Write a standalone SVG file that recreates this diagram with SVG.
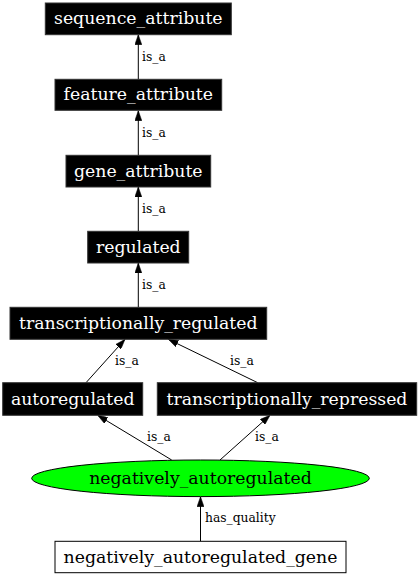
<svg xmlns="http://www.w3.org/2000/svg" width="419" height="576" viewBox="0 0 419 576">
<style>
.box{fill:#000;stroke:#333;stroke-width:1}
.lbl{font-family:"DejaVu Serif",serif;font-size:17.3px;fill:#fff;text-anchor:middle}
.lbld{font-family:"DejaVu Serif",serif;font-size:17.3px;fill:#000;text-anchor:middle}
.el{font-family:"DejaVu Serif",serif;font-size:12.3px;fill:#000}
.edge{stroke:#000;stroke-width:1;fill:none}
</style>
<defs>
<marker id="arr" viewBox="0 0 10 7" refX="10" refY="3.5" markerWidth="10" markerHeight="7" markerUnits="userSpaceOnUse" orient="auto">
<path d="M0,0 L10,3.5 L0,7 Z" fill="#000" stroke="#000" stroke-width="0.5"/>
</marker>
</defs>
<rect width="419" height="576" fill="#fff"/>
<g id="edges">
<line class="edge" x1="138.3" y1="79.3" x2="138.3" y2="34.7" marker-end="url(#arr)"/>
<text class="el" x="142" y="61">is_a</text>
<line class="edge" x1="138.3" y1="155.3" x2="138.3" y2="110.7" marker-end="url(#arr)"/>
<text class="el" x="142" y="137">is_a</text>
<line class="edge" x1="138.3" y1="231.3" x2="138.3" y2="187" marker-end="url(#arr)"/>
<text class="el" x="142" y="213">is_a</text>
<line class="edge" x1="138.3" y1="307.3" x2="138.3" y2="263" marker-end="url(#arr)"/>
<text class="el" x="142" y="289">is_a</text>
<line class="edge" x1="86" y1="382.7" x2="125" y2="339.3" marker-end="url(#arr)"/>
<text class="el" x="115" y="365">is_a</text>
<line class="edge" x1="257.7" y1="382.7" x2="168.3" y2="339.3" marker-end="url(#arr)"/>
<text class="el" x="230" y="365">is_a</text>
<line class="edge" x1="171.7" y1="460" x2="97.7" y2="415.3" marker-end="url(#arr)"/>
<text class="el" x="147" y="441">is_a</text>
<line class="edge" x1="220" y1="460" x2="270" y2="415.3" marker-end="url(#arr)"/>
<text class="el" x="255" y="441">is_a</text>
<line class="edge" x1="200.5" y1="541.3" x2="200.5" y2="496.7" marker-end="url(#arr)"/>
<text class="el" x="205" y="522">has_quality</text>
</g>
<g id="sequence_attribute">
<rect class="box" x="45.3" y="3" width="186" height="31.7"/>
<text class="lbl" x="138.3" y="24">sequence_attribute</text>
</g>
<g id="feature_attribute">
<rect class="box" x="55" y="79.3" width="166.7" height="31"/>
<text class="lbl" x="138.3" y="100">feature_attribute</text>
</g>
<g id="gene_attribute">
<rect class="box" x="66" y="155.3" width="144.7" height="31.7"/>
<text class="lbl" x="138.3" y="176.5">gene_attribute</text>
</g>
<g id="regulated">
<rect class="box" x="87.7" y="231.3" width="101" height="31.7"/>
<text class="lbl" x="138.3" y="252.5">regulated</text>
</g>
<g id="transcriptionally_regulated">
<rect class="box" x="10" y="307.3" width="256.7" height="32"/>
<text class="lbl" x="138.3" y="328.5">transcriptionally_regulated</text>
</g>
<g id="autoregulated">
<rect class="box" x="2.7" y="382.7" width="140" height="32.6"/>
<text class="lbl" x="72.7" y="404.5">autoregulated</text>
</g>
<g id="transcriptionally_repressed">
<rect class="box" x="157.3" y="382.7" width="259.4" height="32.6"/>
<text class="lbl" x="287" y="404.5">transcriptionally_repressed</text>
</g>
<g id="negatively_autoregulated">
<ellipse cx="200.5" cy="478.3" rx="168.8" ry="18.3" fill="#00ff00" stroke="#000"/>
<text class="lbld" x="200.5" y="484">negatively_autoregulated</text>
</g>
<g id="negatively_autoregulated_gene">
<rect x="55" y="541.3" width="291" height="31.4" fill="#fff" stroke="#000"/>
<text class="lbld" x="200.5" y="562.5">negatively_autoregulated_gene</text>
</g>
</svg>
